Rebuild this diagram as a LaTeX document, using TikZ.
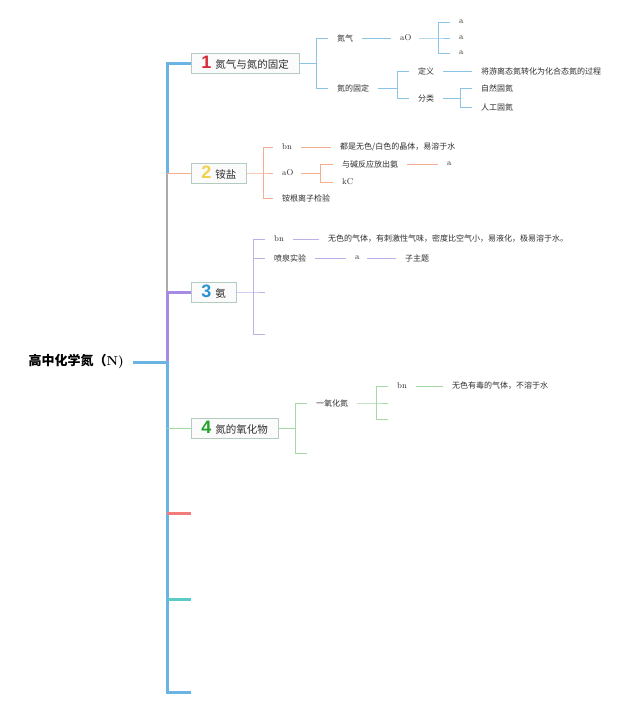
\documentclass[tikz,border=0pt]{standalone}
\usepackage{fontspec}
\newfontfamily\cjk{Noto Sans CJK SC}
\newfontfamily\numf{Liberation Sans}
\definecolor{spblue}{HTML}{6AB4E4}
\definecolor{spgrey}{HTML}{AAAAAA}
\definecolor{sppurple}{HTML}{A68BE3}
\definecolor{spred}{HTML}{F27B7B}
\definecolor{spteal}{HTML}{5CCBC8}
\definecolor{lone}{HTML}{8CC4E8}
\definecolor{ltwo}{HTML}{F5AE90}
\definecolor{lthree}{HTML}{BFB0EC}
\definecolor{lfour}{HTML}{A4D8A4}
\definecolor{boxc}{HTML}{B4CCC0}
\definecolor{boxfill}{HTML}{FAFBFA}
\definecolor{txt}{HTML}{2E2E2E}
\definecolor{none}{HTML}{D82B3A}
\definecolor{ntwo}{HTML}{F0D24A}
\definecolor{nthree}{HTML}{2A93D5}
\definecolor{nfour}{HTML}{22A22A}
\begin{document}
\begin{tikzpicture}[x=1pt,y=-1pt,
  spine/.style={line width=3pt,line join=miter},
  ln/.style={line width=0.8pt},
  mbox/.style={draw=boxc,fill=boxfill,line width=0.7pt,minimum height=20pt,inner xsep=10pt,inner ysep=1pt,anchor=west,text=txt,font=\cjk\fontsize{10.5}{12}\selectfont},
  leaf/.style={anchor=west,inner xsep=9pt,inner ysep=1pt,text=txt,font=\cjk\fontsize{8}{10}\selectfont},
  latin/.style={anchor=west,inner xsep=9pt,inner ysep=1pt,text=txt,text width=10pt,align=left,font=\fontsize{8.5}{10}\selectfont},
  rootn/.style={anchor=east,inner xsep=9pt,text=black,font=\cjk\bfseries\fontsize{13}{15}\selectfont}]
\useasboundingbox (0,0) rectangle (640,707);
\newcommand{\bignum}[2]{{\numf\bfseries\fontsize{18}{18}\selectfont\color{#1}#2}\hspace{4pt}}

% root and main boxes
\node[rootn] (root) at (133,362) {高中化学氮（{\rmfamily\bfseries N)}};
\node[mbox] (b1) at (191,63) {\bignum{none}{1}氮气与氮的固定};
\node[mbox] (b2) at (191,173) {\bignum{ntwo}{2}铵盐};
\node[mbox] (b3) at (191,292) {\bignum{nthree}{3}氨};
\node[mbox] (b4) at (191,428) {\bignum{nfour}{4}氮的氧化物};

% spine
\coordinate (s0) at (167,63);
\coordinate (s2) at (167,173);
\coordinate (s3) at (167,292);
\coordinate (sr) at (167,362);
\coordinate (s4) at (167,428);
\coordinate (s5) at (167,513);
\coordinate (s6) at (167,599);
\coordinate (s7) at (167,692);
\coordinate (e5) at (191,513);
\coordinate (e6) at (191,599);
\coordinate (e7) at (191,692);
\draw[spine,spblue] (b1.west) -- (s0) -- (s2);
\draw[line width=2pt,spgrey] (s2) -- (s3);
\draw[spine,sppurple] (b3.west) -- (s3) -- (sr);
\draw[spine,spblue] (root.east) -- (sr) -- (s7) -- (e7);
\draw[line width=1pt,ltwo] (s2) -- (b2.west);
\draw[line width=1pt,lfour] (s4) -- (b4.west);
\draw[spine,spred] (s5) -- (e5);
\draw[spine,spteal] (s6) -- (e6);

% branch 1
\coordinate (j1) at (316,63);
\node[leaf] (c11) at (328,38) {氮气};
\node[leaf] (c12) at (328,88) {氮的固定};
\node[latin] (c111) at (391,38) {aO};
\coordinate (j11) at (438,38);
\node[latin] (a1) at (450,22) {a};
\node[latin] (a2) at (450,38) {a};
\node[latin] (a3) at (450,53) {a};
\coordinate (j12) at (397,88);
\node[leaf] (c121) at (409,71) {定义};
\node[leaf] (c122) at (409,98) {分类};
\node[leaf] (d1) at (472,71) {将游离态氮转化为化合态氮的过程};
\coordinate (j122) at (460,98);
\node[leaf] (f1) at (472,88) {自然固氮};
\node[leaf] (f2) at (472,107) {人工固氮};
\begin{scope}[ln,lone]
\draw (b1.east) -- (j1);
\draw (j1) |- (c11.west);
\draw (j1) |- (c12.west);
\draw (c11.east) -- (c111.west);
\draw (c111.east) -- (j11) -- (a2.west);
\draw (j11) |- (a1.west);
\draw (j11) |- (a3.west);
\draw (c12.east) -- (j12);
\draw (j12) |- (c121.west);
\draw (j12) |- (c122.west);
\draw (c121.east) -- (d1.west);
\draw (c122.east) -- (j122);
\draw (j122) |- (f1.west);
\draw (j122) |- (f2.west);
\end{scope}

% branch 2
\coordinate (j2) at (263,173);
\node[latin] (c21) at (273,147) {bn};
\node[latin] (c22) at (273,173) {aO};
\node[leaf] (c23) at (273,198) {铵根离子检验};
\node[leaf] (d21) at (331,147) {都是无色/白色的晶体，易溶于水};
\coordinate (j22) at (320,173);
\node[leaf] (c221) at (333,164) {与碱反应放出氨};
\node[latin] (c222) at (333,182) {kC};
\node[latin] (c2211) at (438,164) {a};
\begin{scope}[ln,ltwo]
\draw (b2.east) -- (j2) -- (c22.west);
\draw (j2) |- (c21.west);
\draw (j2) |- (c23.west);
\draw (c21.east) -- (d21.west);
\draw (c22.east) -- (j22);
\draw (j22) |- (c221.west);
\draw (j22) |- (c222.west);
\draw (c221.east) -- (c2211.west);
\end{scope}

% branch 3
\coordinate (j3) at (253,292);
\node[latin] (c31) at (265,239) {bn};
\node[leaf] (c32) at (265,258) {喷泉实验};
\coordinate (c33) at (265,292);
\coordinate (c34) at (265,334);
\node[leaf] (d31) at (319,239) {无色的气体，有刺激性气味，密度比空气小，易液化，极易溶于水。};
\node[latin,text width=3pt] (c321) at (346,258) {a};
\node[leaf] (c3211) at (396,258) {子主题};
\begin{scope}[ln,lthree]
\draw (b3.east) -- (j3) -- (c33);
\draw (j3) |- (c31.west);
\draw (j3) |- (c32.west);
\draw (j3) |- (c34);
\draw (c31.east) -- (d31.west);
\draw (c32.east) -- (c321.west);
\draw (c321.east) -- (c3211.west);
\end{scope}

% branch 4
\coordinate (j4) at (295,428);
\node[leaf] (c41) at (307,403) {一氧化氮};
\coordinate (c42) at (307,453);
\coordinate (j41) at (376,403);
\node[latin] (c411) at (388,386) {bn};
\coordinate (c412) at (388,403);
\coordinate (c413) at (388,419);
\node[leaf] (d41) at (443,386) {无色有毒的气体，不溶于水};
\begin{scope}[ln,lfour]
\draw (b4.east) -- (j4);
\draw (j4) |- (c41.west);
\draw (j4) |- (c42);
\draw (c41.east) -- (j41) -- (c412);
\draw (j41) |- (c411.west);
\draw (j41) |- (c413);
\draw (c411.east) -- (d41.west);
\end{scope}
\end{tikzpicture}
\end{document}
